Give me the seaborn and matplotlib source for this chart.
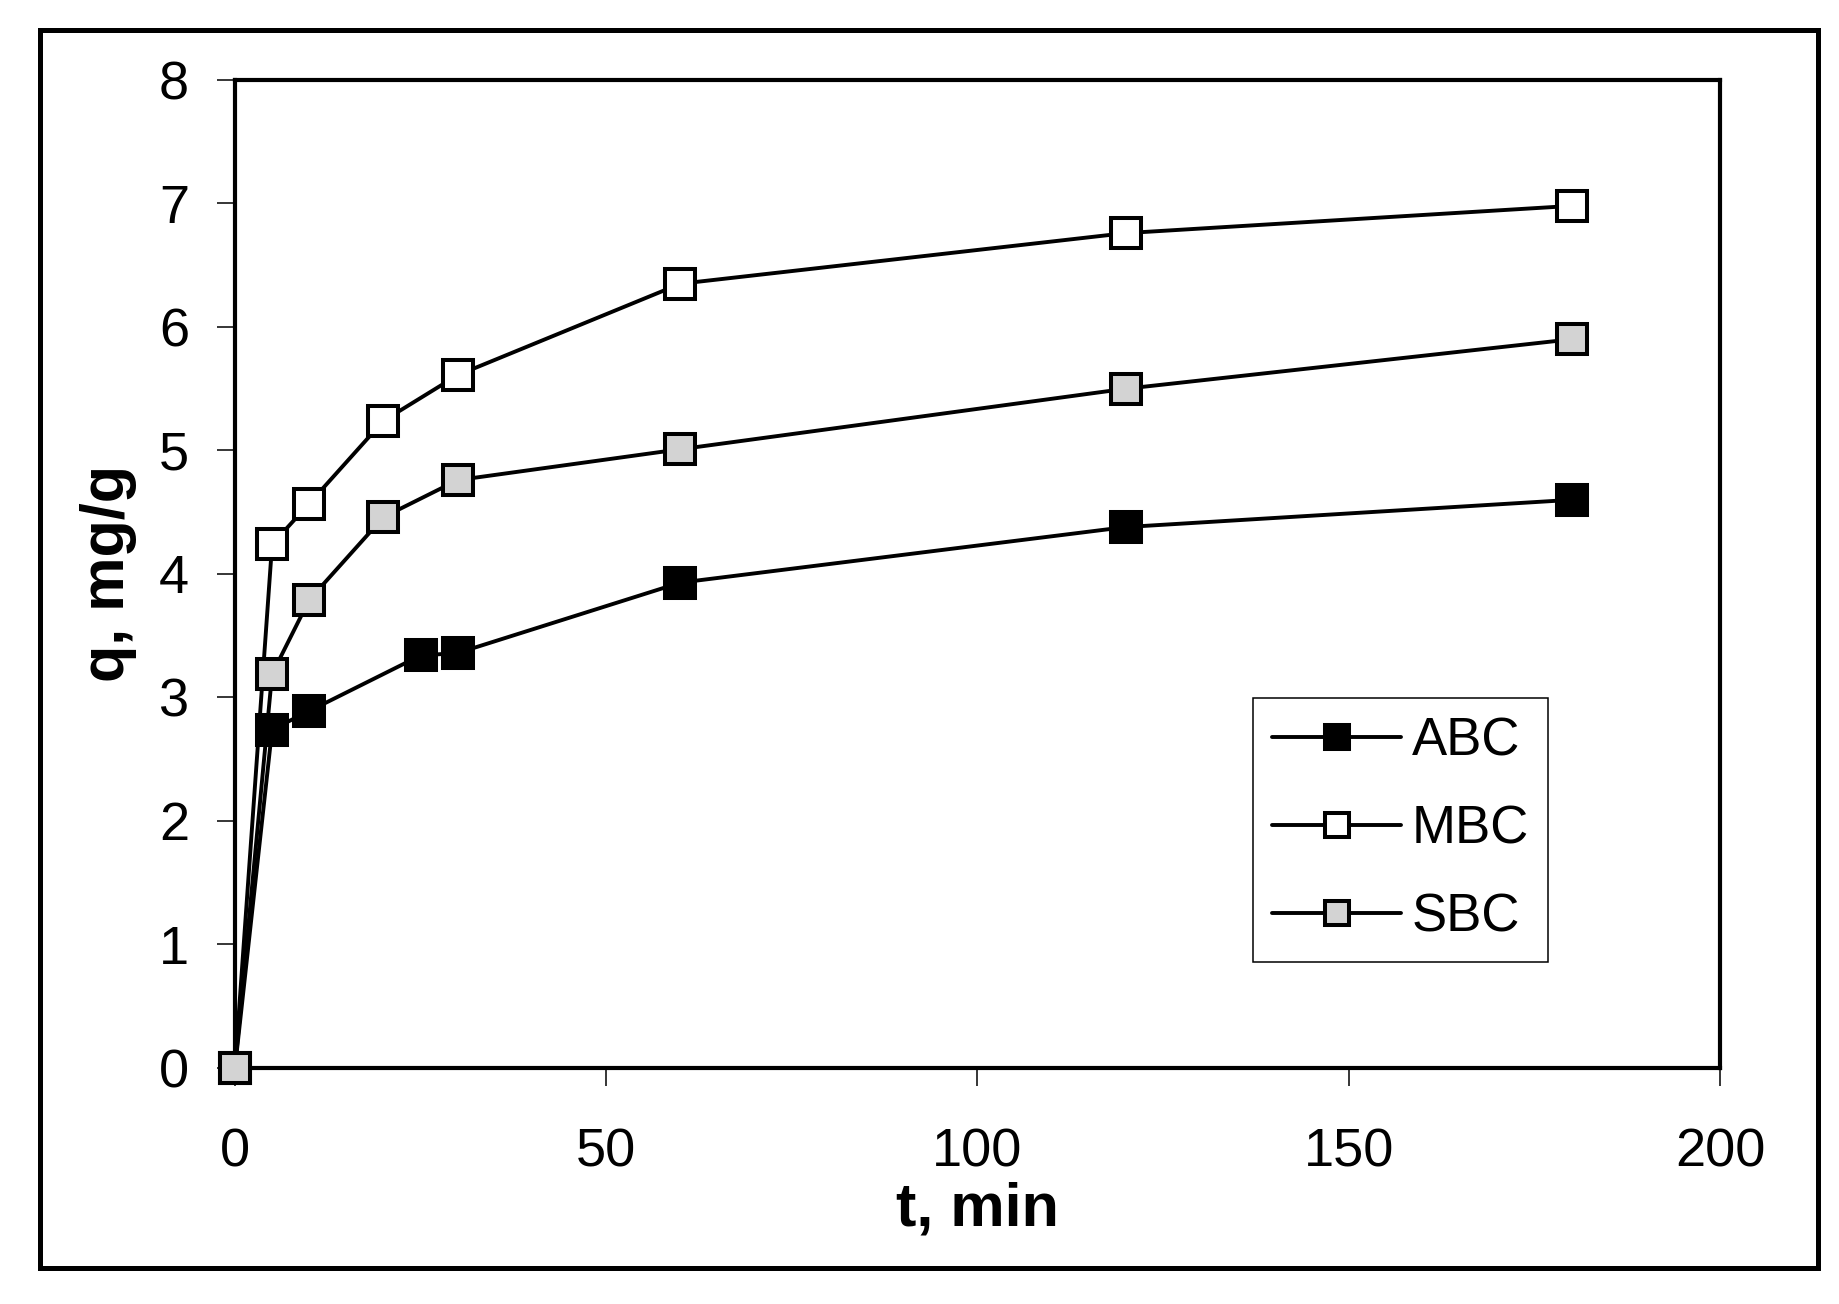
import numpy as np
import pandas as pd
import seaborn as sns
import matplotlib.pyplot as plt
from matplotlib.patches import Rectangle

# adsorption kinetics, values
t_abc = [0, 5, 10, 25, 30, 60, 120, 180]
q_abc = [0, 2.74, 2.89, 3.34, 3.36, 3.93, 4.38, 4.60]

t_mbc = [0, 5, 10, 20, 30, 60, 120, 180]
q_mbc = [0, 4.24, 4.57, 5.24, 5.61, 6.35, 6.76, 6.98]

t_sbc = [0, 5, 10, 20, 30, 60, 120, 180]
q_sbc = [0, 3.19, 3.79, 4.46, 4.76, 5.01, 5.50, 5.90]

series_names = ['ABC', 'MBC', 'SBC']
face_colors = ['black', 'white', '#d3d3d3']

x_ticks = [0, 50, 100, 150, 200]
y_ticks = [0, 1, 2, 3, 4, 5, 6, 7, 8]

sns.set_style('ticks')
plt.rcParams['font.family'] = ['Liberation Sans', 'DejaVu Sans']
plt.rcParams['text.color'] = 'black'
plt.rcParams['axes.labelcolor'] = 'black'
plt.rcParams['xtick.color'] = 'black'
plt.rcParams['ytick.color'] = 'black'

fig = plt.figure(figsize=(18.4, 13.04), dpi=100)
ax = fig.add_axes([0.1277, 0.181, 0.8071, 0.7577])

data = [(t_abc, q_abc), (t_mbc, q_mbc), (t_sbc, q_sbc)]
for (t, q), name, fc in zip(data, series_names, face_colors):
    df = pd.DataFrame({'t': t, 'q': q})
    sns.lineplot(data=df, x='t', y='q', ax=ax, color='black', linewidth=2.8,
                 marker='s', markersize=21, markerfacecolor=fc,
                 markeredgecolor='black', markeredgewidth=2.9,
                 label=name, clip_on=False, zorder=3)

ax.set_xlim(0, 200)
ax.set_ylim(0, 8)
ax.set_xticks(x_ticks)
ax.set_yticks(y_ticks)
ax.tick_params(axis='both', direction='out', length=13, width=1.1,
               color='black', labelcolor='black', labelsize=39)
ax.tick_params(axis='x', pad=30)
ax.tick_params(axis='y', pad=20)

for side in ['left', 'right', 'top', 'bottom']:
    ax.spines[side].set_visible(True)
    ax.spines[side].set_linewidth(3)
    ax.spines[side].set_color('black')

ax.set_xlabel('t, min', fontsize=44, fontweight='bold', labelpad=3)
ax.set_ylabel('q, mg/g', fontsize=44, fontweight='bold', labelpad=16)

leg = ax.legend(loc='upper left', bbox_to_anchor=(0.6855, 0.3745),
                borderaxespad=0, fontsize=38, frameon=True, fancybox=False,
                edgecolor='black', framealpha=1, handlelength=2.45,
                handletextpad=0.2, labelspacing=0.72, borderpad=0.36,
                markerscale=0.8, numpoints=1)
leg.get_frame().set_linewidth(1.1)

# outer border of the figure
fig.add_artist(Rectangle((0.0217, 0.0276), 0.9663, 0.9494, transform=fig.transFigure,
                         fill=False, linewidth=3.6, edgecolor='black'))

fig.savefig('out.png', dpi=100)
